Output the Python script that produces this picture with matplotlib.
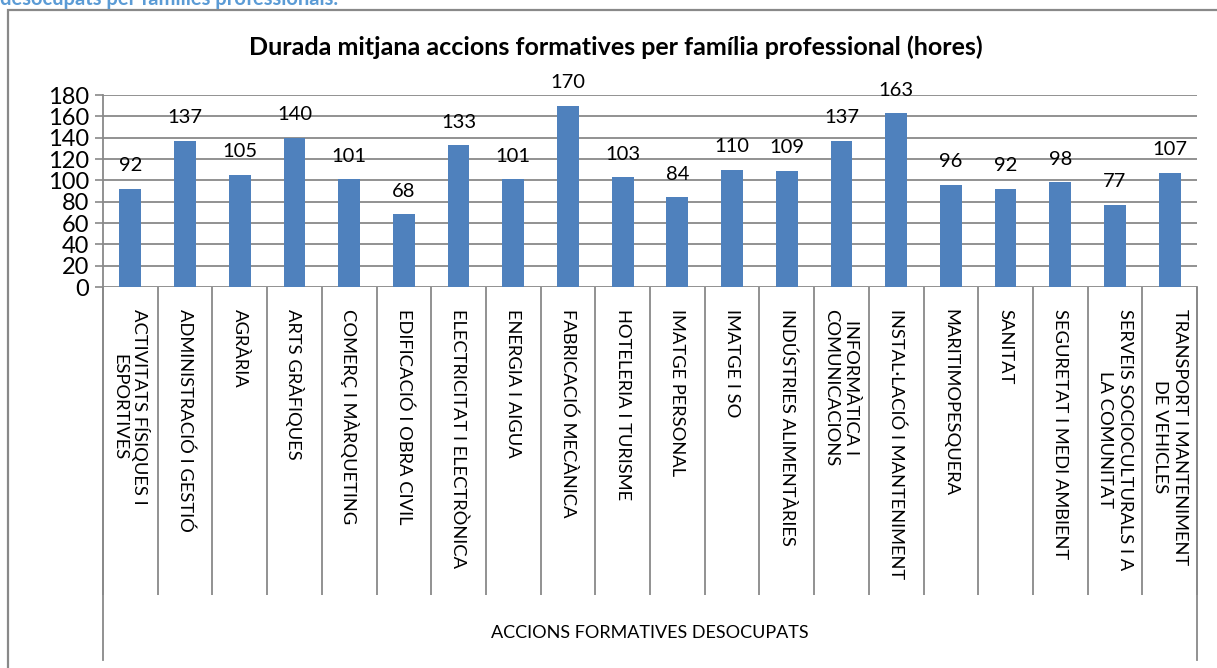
import matplotlib
matplotlib.use("Agg")
import matplotlib.pyplot as plt
from matplotlib.patches import Rectangle
from matplotlib.lines import Line2D

plt.rcParams['font.family'] = ['Lato', 'DejaVu Sans']

categories = [
    "ACTIVITATS FÍSIQUES I\nESPORTIVES",
    "ADMINISTRACIÓ I GESTIÓ",
    "AGRÀRIA",
    "ARTS GRÀFIQUES",
    "COMERÇ I MÀRQUETING",
    "EDIFICACIÓ I OBRA CIVIL",
    "ELECTRICITAT I ELECTRÒNICA",
    "ENERGIA I AIGUA",
    "FABRICACIÓ MECÀNICA",
    "HOTELERIA I TURISME",
    "IMATGE PERSONAL",
    "IMATGE I SO",
    "INDÚSTRIES ALIMENTÀRIES",
    "INFORMÀTICA I\nCOMUNICACIONS",
    "INSTAL·LACIÓ I MANTENIMENT",
    "MARITIMOPESQUERA",
    "SANITAT",
    "SEGURETAT I MEDI AMBIENT",
    "SERVEIS SOCIOCULTURALS I A\nLA COMUNITAT",
    "TRANSPORT I MANTENIMENT\nDE VEHICLES",
]
values = [92, 137, 105, 140, 101, 68, 133, 101, 170, 103, 84, 110, 109, 137, 163, 96, 92, 98, 77, 107]
yticks = [0, 20, 40, 60, 80, 100, 120, 140, 160, 180]
title = "Durada mitjana accions formatives per família professional (hores)"
group_label = "ACCIONS FORMATIVES DESOCUPATS"
caption = "desocupats per famílies professionals."

W, H = 1217, 668
fig = plt.figure(figsize=(W / 100, H / 100), dpi=100)

GRAY = "#898989"
BLUE = "#4f81bd"

# outer chart frame
fig.patches.append(Rectangle((8 / W, -0.2), 1.5, 1.2 - 10 / H, transform=fig.transFigure,
                             fill=False, edgecolor=GRAY, lw=1.6, clip_on=False))

# caption (cut off at top, as in the source)
fig.text(0 / W, 1 - 5 / H, caption, color="#5b9bd5", fontsize=14.5, fontweight="bold",
         ha="left", va="baseline")

x0, x1 = 103, 1197
y0, y1 = 287, 95
ax = fig.add_axes([x0 / W, 1 - y0 / H, (x1 - x0) / W, (y0 - y1) / H])

xs = list(range(len(categories)))
ax.bar(xs, values, width=0.4, color=BLUE, zorder=3)
ax.set_xlim(-0.5, len(categories) - 0.5)
ax.set_ylim(0, 180)
ax.set_yticks(yticks)
ax.set_yticklabels([str(v) for v in yticks], fontsize=17)
ax.tick_params(axis='y', direction='out', length=6, color=GRAY, width=1.2, pad=4)
ax.yaxis.grid(True, color=GRAY, lw=1.3, zorder=0)
ax.set_axisbelow(True)
for s in ['top', 'right', 'bottom']:
    ax.spines[s].set_visible(False)
ax.spines['left'].set_color(GRAY)
ax.spines['left'].set_linewidth(1.3)

# category separators (minor ticks) and labels
ax.set_xticks(xs)
ax.set_xticklabels([])
ax.tick_params(axis='x', which='major', length=0)
ax.set_xticks([i - 0.5 for i in range(len(categories) + 1)], minor=True)
ax.tick_params(axis='x', which='minor', direction='out', length=(595 - 287) * 0.72,
               color=GRAY, width=1.3)

trans = ax.get_xaxis_transform()
px = 1.0 / (y0 - y1)
for i, c in enumerate(categories):
    ax.text(i, -(309 - 287) * px, c, rotation=270, ha='center', va='top',
            multialignment='center', fontsize=13.2, linespacing=1.3,
            transform=trans, clip_on=False)

# outer group lines
for xv in (-0.5, len(categories) - 0.5):
    ax.add_line(Line2D([xv, xv], [0, -(660 - 287) * px], transform=trans, color=GRAY,
                       lw=1.3, clip_on=False))

ax.text((len(categories) - 1) / 2, -(633 - 287) * px, group_label, ha='center', va='center',
        fontsize=13, transform=trans, clip_on=False)

# data labels
for i, v in enumerate(values):
    ax.annotate(str(v), (i, v), xytext=(0, 10.5), textcoords='offset points',
                ha='center', va='bottom', fontsize=14.5)

fig.text(616 / W, 1 - 47 / H, title, ha='center', va='center', fontsize=18,
         fontweight='bold')

fig.savefig("out.png", dpi=100)
